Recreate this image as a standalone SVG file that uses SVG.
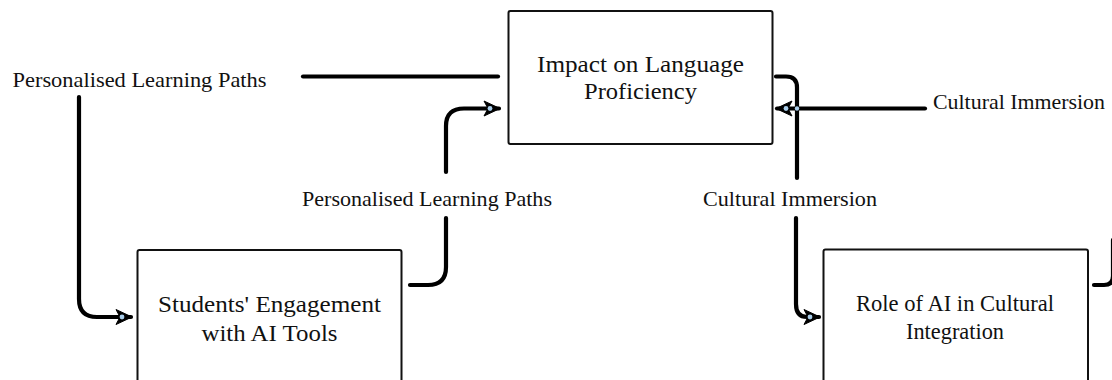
<svg xmlns="http://www.w3.org/2000/svg" width="1112" height="380" viewBox="0 0 1112 380">
  <style>
    .box { fill: #ffffff; stroke: #111111; stroke-width: 2; }
    .bt { font-family: "Liberation Serif", "Times New Roman", serif; font-size: 24px; fill: #111111; text-anchor: middle; }
    .lbl { font-family: "Liberation Serif", "Times New Roman", serif; font-size: 22px; fill: #111111; }
    .con { fill: none; stroke: #000000; stroke-width: 4.2; stroke-linecap: round; stroke-linejoin: round; }
    .dot { fill: #a9cdea; }
  </style>
  <defs>
    <marker id="arr" viewBox="0 0 18 18" refX="16" refY="9" markerWidth="18" markerHeight="18" markerUnits="userSpaceOnUse" orient="auto">
      <path d="M1,1.5 L17,9 L1,16.5 L5,9 Z" fill="#000000" stroke="#000000" stroke-width="1" stroke-linejoin="round"/>
      <circle cx="7" cy="9" r="2.4" class="dot"/>
    </marker>
  </defs>
  <rect width="1112" height="380" fill="#ffffff"/>

  <g id="connectors">
    <path class="con" d="M303,76.5 H498"/>
    <path class="con" d="M79,97 V299 Q79,317 97,317 H131" marker-end="url(#arr)"/>
    <path class="con" d="M410,285 H428 Q446,285 446,267 V218"/>
    <path class="con" d="M446,172 V126 Q446,108.5 464,108.5 H499" marker-end="url(#arr)"/>
    <path class="con" d="M776,76.5 H786 Q797,76.5 797,87.5 V178"/>
    <path class="con" d="M925,108.5 H777" marker-end="url(#arr)"/>
    <circle cx="797" cy="108.5" r="2.2" class="dot"/>
    <path class="con" d="M796,218 V304 Q796,317 807,317 H819" marker-end="url(#arr)"/>
    <path class="con" d="M1094,285 H1104 Q1113,285 1113,276 V240"/>
  </g>

  <g id="label-plp-left">
    <text class="lbl" x="12.5" y="86.5" textLength="254" lengthAdjust="spacingAndGlyphs">Personalised Learning Paths</text>
  </g>
  <g id="label-plp-mid">
    <text class="lbl" x="302" y="206" textLength="250" lengthAdjust="spacingAndGlyphs">Personalised Learning Paths</text>
  </g>
  <g id="label-ci-mid">
    <text class="lbl" x="703" y="206" textLength="174" lengthAdjust="spacingAndGlyphs">Cultural Immersion</text>
  </g>
  <g id="label-ci-right">
    <text class="lbl" x="933" y="108.5" textLength="172" lengthAdjust="spacingAndGlyphs">Cultural Immersion</text>
  </g>

  <g id="node-impact">
    <rect class="box" x="508.5" y="11" width="264" height="133" rx="2"/>
    <text class="bt" x="640.5" y="72" textLength="207" lengthAdjust="spacingAndGlyphs">Impact on Language</text>
    <text class="bt" x="640.5" y="98.5" textLength="113" lengthAdjust="spacingAndGlyphs">Proficiency</text>
  </g>
  <g id="node-students">
    <rect class="box" x="137.5" y="250" width="264" height="140" rx="2"/>
    <text class="bt" x="269.5" y="311.5" textLength="223" lengthAdjust="spacingAndGlyphs">Students' Engagement</text>
    <text class="bt" x="269.5" y="341" textLength="136" lengthAdjust="spacingAndGlyphs">with AI Tools</text>
  </g>
  <g id="node-role">
    <rect class="box" x="823.5" y="249.5" width="264.5" height="140" rx="2"/>
    <text class="bt" x="955" y="311" textLength="198" lengthAdjust="spacingAndGlyphs">Role of AI in Cultural</text>
    <text class="bt" x="955" y="339" textLength="98" lengthAdjust="spacingAndGlyphs">Integration</text>
  </g>
</svg>
